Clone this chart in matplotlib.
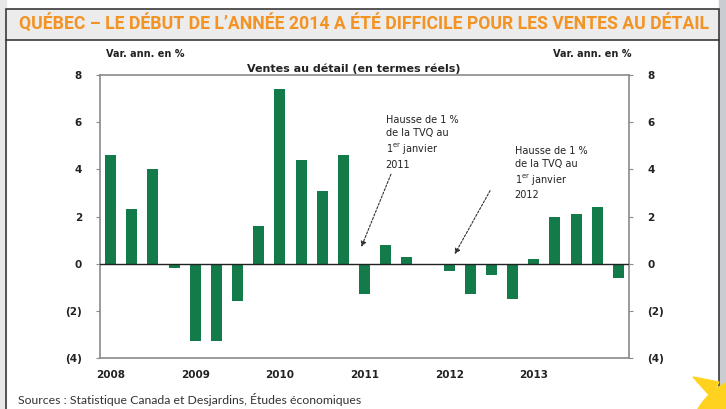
import matplotlib
matplotlib.use('Agg')
import matplotlib.pyplot as plt
from matplotlib.patches import Rectangle, Circle, Polygon

# quarterly data, 2008Q1 .. 2014Q1 (var. ann. en %)
quarters = list(range(25))
ventes = [4.6, 2.3, 4.0, -0.2, -3.3, -3.3, -1.6, 1.6,
          7.4, 4.4, 3.1, 4.6, -1.3, 0.8, 0.3, 0.0,
          -0.3, -1.3, -0.5, -1.5, 0.2, 2.0, 2.1, 2.4, -0.6]
year_pos = [0, 4, 8, 12, 16, 20]
year_labels = ['2008', '2009', '2010', '2011', '2012', '2013']
ytick_vals = [8, 6, 4, 2, 0, -2, -4]
ytick_labels = ['8', '6', '4', '2', '0', '(2)', '(4)']

W, H = 726, 409
fig = plt.figure(figsize=(W/100, H/100), dpi=100)
fig.patch.set_facecolor('white')

def fx(px):
    return px / W

def fy(py):
    return 1 - py / H

# side strips and frame
fig.add_artist(Rectangle((0, 0), fx(6), 1, transform=fig.transFigure, color='#e6e8ea', zorder=0))
fig.add_artist(Rectangle((fx(719), 0), 1 - fx(719), 1, transform=fig.transFigure, color='#c9cdd1', zorder=0))
fig.add_artist(Rectangle((fx(6), fy(40)), fx(713), fy(9) - fy(40), transform=fig.transFigure,
                         facecolor='#ececec', edgecolor='#3a3a3a', lw=1.2, zorder=1))
fig.add_artist(plt.Line2D([fx(6), fx(6)], [0, fy(40)], transform=fig.transFigure, color='#3a3a3a', lw=1.2))
fig.add_artist(plt.Line2D([fx(719), fx(719)], [0, fy(40)], transform=fig.transFigure, color='#3a3a3a', lw=1.2))

fig.text(fx(364), fy(24), "QUÉBEC – LE DÉBUT DE L’ANNÉE 2014 A ÉTÉ DIFFICILE POUR LES VENTES AU DÉTAIL",
         ha='center', va='center', color='#f39323', fontsize=12.7, fontweight='bold',
         family=['Roboto', 'DejaVu Sans'])

fig.text(fx(18), fy(399), "Sources : Statistique Canada et Desjardins, Études économiques",
         ha='left', va='center', color='#333333', fontsize=8.8, family=['Lato', 'DejaVu Sans'])

# sun in the corner
fig.add_artist(Circle((7.58, -0.36), 0.7, transform=fig.dpi_scale_trans, color='#ffd21f', zorder=3))
fig.add_artist(Polygon([(6.93, 0.32), (7.11, 0.12), (7.19, 0.27)], closed=True,
                       transform=fig.dpi_scale_trans, color='#ffd21f', zorder=3))

# chart
ax = fig.add_axes([fx(100), fy(358), fx(629) - fx(100), fy(75) - fy(358)])
ax.bar(quarters, ventes, width=0.52, color='#137a4a', zorder=2)
ax.axhline(0, color='#222222', lw=1.0, zorder=3)
ax.set_xlim(-0.5, 24.5)
ax.set_ylim(-4, 8)

for s in ['left', 'right', 'top', 'bottom']:
    ax.spines[s].set_color('#8a8a8a')
    ax.spines[s].set_linewidth(1.2)

ax.set_yticks(ytick_vals)
ax.set_yticklabels(ytick_labels)
ax.tick_params(axis='y', direction='out', length=3, width=0.8, color='#8a8a8a',
               labelsize=7.5, labelcolor='#222222', pad=10,
               left=True, right=True, labelleft=True, labelright=True)
for lab in ax.get_yticklabels():
    lab.set_fontweight('bold')
ax.set_xticks(year_pos)
ax.set_xticklabels(year_labels, fontsize=7.5, fontweight='bold', color='#222222')
ax.tick_params(axis='x', length=0, pad=9)

ax.text(-0.2, 8.75, "Var. ann. en %", fontsize=7, fontweight='bold', color='#222222', ha='left')
ax.text(24.6, 8.75, "Var. ann. en %", fontsize=7, fontweight='bold', color='#222222', ha='right')
ax.text(11.5, 8.05, "Ventes au détail (en termes réels)", fontsize=8, fontweight='bold',
        color='#222222', ha='center', va='bottom')

note1 = "Hausse de 1 %\nde la TVQ au\n1$^{\\rm er}$ janvier\n2011"
note2 = "Hausse de 1 %\nde la TVQ au\n1$^{\\rm er}$ janvier\n2012"
ax.text(13.0, 6.3, note1, fontsize=7, color='#222222', ha='left', va='top', linespacing=1.35)
ax.text(19.1, 5.0, note2, fontsize=7, color='#222222', ha='left', va='top', linespacing=1.35)
ax.annotate('', xy=(11.8, 0.6), xytext=(13.3, 3.9),
            arrowprops=dict(arrowstyle='-|>', color='#333333', lw=0.8, ls=(0, (2, 1.5)),
                            mutation_scale=8))
ax.annotate('', xy=(16.2, 0.3), xytext=(18.0, 3.2),
            arrowprops=dict(arrowstyle='-|>', color='#333333', lw=0.8, ls=(0, (2, 1.5)),
                            mutation_scale=8))

plt.savefig('out.png', dpi=100)
